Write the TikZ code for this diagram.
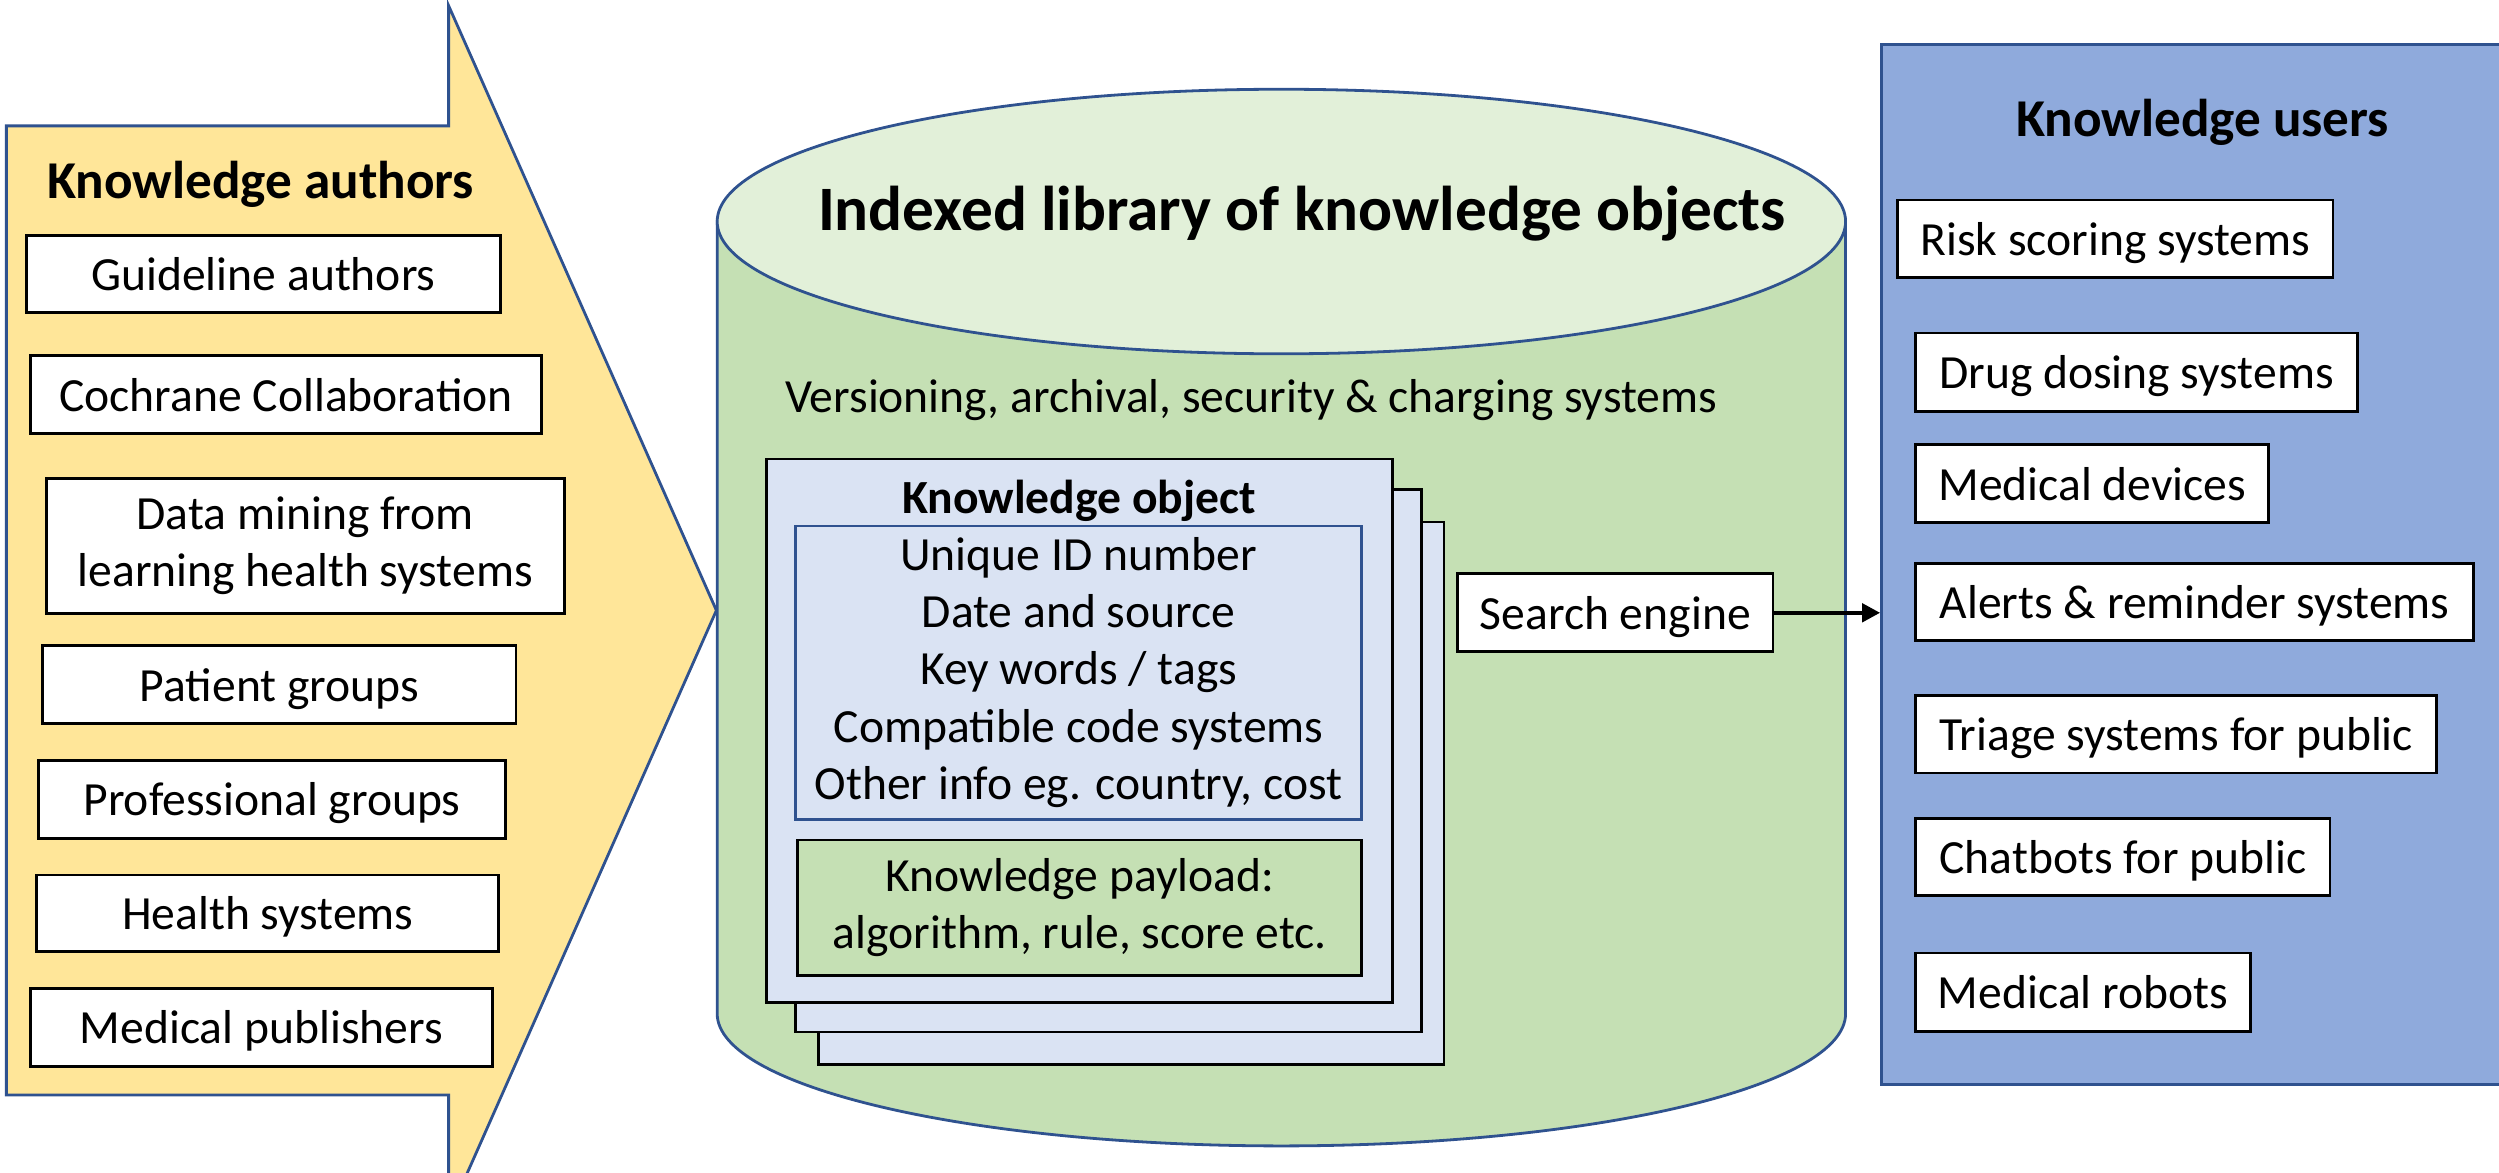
\documentclass[tikz,border=0pt]{standalone}
\usepackage{fontspec}
\setmainfont{Carlito}
\usepackage{tikz}
\usetikzlibrary{
  arrows.meta,
  positioning,
  calc
}
\definecolor{kbAuthor}{HTML}{FFE699}
\definecolor{kbEdge}{HTML}{2F528F}
\definecolor{kbLib}{HTML}{C5E0B4}
\definecolor{kbLibTop}{HTML}{E2F0D9}
\definecolor{kbSheet}{HTML}{DAE3F3}
\definecolor{kbUser}{HTML}{8FAADC}
\newcommand{\kbbody}{\fontsize{17}{20.4}\selectfont}
\newcommand{\kbhead}{\fontsize{19}{22.8}\selectfont}
\newcommand{\kblib}{\fontsize{22.6}{27}\selectfont}
\tikzset{
  kbnode/.style={draw, line width=1pt, inner sep=0pt, align=center, font=\kbbody},
  dims/.style 2 args={minimum width=#1*0.02cm, minimum height=#2*0.02cm},
  srcbox/.style={kbnode, fill=white},
  onerow/.style={srcbox, text height=15.3pt, text depth=3.4pt},
  sheet/.style={kbnode, fill=kbSheet},
  infobox/.style={kbnode, fill=kbSheet, draw=kbEdge},
  payload/.style={kbnode, fill=kbLib},
  edgeline/.style={draw=kbEdge, line width=1pt},
  heading/.style={font=\kbhead\bfseries},
  plain/.style={font=\kbbody},
  flow/.style={-{Triangle[length=6.5pt, width=6.5pt]}, line width=1.6pt, black}
}

\begin{document}
\begin{tikzpicture}[x=0.02cm, y=-0.02cm]
  \useasboundingbox (0,0) rectangle (1568,736);
  \clip (0,0) rectangle (1568,736);

  \path[edgeline, fill=kbAuthor] (4,79) -- (281.5,79) -- (281.5,3.6) -- (449.5,383)
    -- (281.5,762.4) -- (281.5,687) -- (4,687) -- cycle;
  \node[heading] (authorsT) at (163.5,115.5) {Knowledge authors};
  \foreach \i/\x/\y/\w/\h/\txt in {
    1/165.3/172/297.5/48/{Guideline authors},
    2/179.5/247.5/321/49/{Cochrane Collaboration},
    4/175.3/429.5/297/49/{Patient groups},
    5/170.7/501.5/293/49/{Professional groups},
    6/168/573/290/48/{Health systems},
    7/164/644.5/290/49/{Medical publishers}}{
    \node[onerow, dims={\w}{\h}] (author\i) at (\x,\y) {\txt};
  }
  \node[srcbox, dims={325}{85}] (author3) at (191.5,342.5) {Data mining from\\learning health systems};

  \path[edgeline, fill=kbLib] (450,139) -- (450,636)
    arc[start angle=180, end angle=0, x radius=354, y radius=83] -- (1158,139) -- cycle;
  \draw[edgeline, fill=kbLibTop] (804,139) ellipse [x radius=354, y radius=83];
  \node[font=\kblib\bfseries] (libT) at (817,134) {Indexed library of knowledge objects};
  \node[plain] (versioning) at (785,251) {Versioning, archival, security \& charging systems};

  \node[sheet, dims={392.5}{340.5}] (sheetC) at (709.75,497.75) {};
  \node[sheet, dims={393}{340.5}] (sheetB) at (695.5,477.25) {};
  \node[sheet, dims={392.7}{341}] (sheetA) at (677.35,458.5) {};
  \node[font=\kbbody\bfseries] (kobT) at (677,314.5) {Knowledge object};
  \node[infobox, dims={355.5}{184}] (meta) at (676.75,422)
    {Unique ID number\\Date and source\\Key words / tags\\Compatible code systems\\Other info eg. country, cost};
  \node[payload, dims={354}{85}] (payload) at (677.5,569.5) {Knowledge payload:\\algorithm, rule, score etc.};
  \node[onerow, dims={198}{49}] (search) at (1013.5,384.5) {Search engine};

  \node[edgeline, fill=kbUser, dims={420}{652.5}] (users) at (1390.6,354.25) {};
  \node[heading] (usersT) at (1382,76.5) {Knowledge users};
  \foreach \i/\x/\y/\w/\h/\txt in {
    1/1327.3/149.8/273/48.5/{Risk scoring systems},
    2/1340.5/233.5/277/49/{Drug dosing systems},
    3/1312.8/303.5/221.6/49/{Medical devices},
    4/1377/377.7/350/48/{Alerts \& reminder systems},
    5/1365.5/460.7/327/48.6/{Triage systems for public},
    6/1332/537.8/260/48.5/{Chatbots for public},
    7/1307/622.5/210/49/{Medical robots}}{
    \node[onerow, dims={\w}{\h}] (user\i) at (\x,\y) {\txt};
  }

  \draw[flow] (search.east) -- (search.east -| users.west);
\end{tikzpicture}
\end{document}
